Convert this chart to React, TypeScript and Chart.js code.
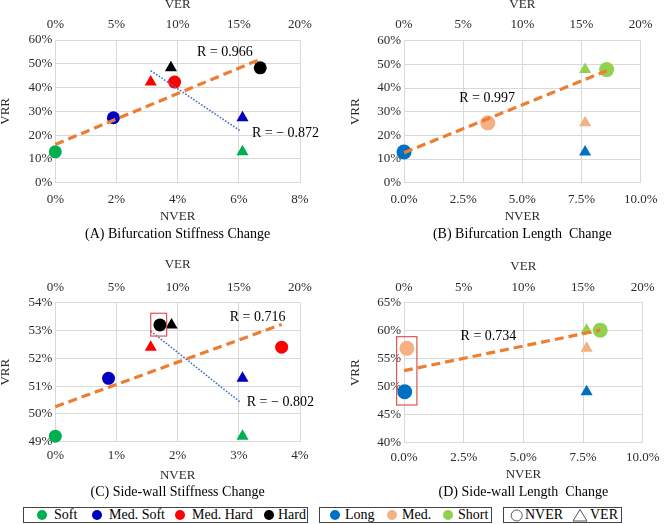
import React, { useEffect, useRef } from 'react';
import { Chart, registerables } from 'chart.js';
Chart.register(...registerables);

const FONT = '"Liberation Serif", "Times New Roman", serif';

// ---------- categories & colours ----------
const stiffLabels = ['Soft', 'Med. Soft', 'Med. Hard', 'Hard'];
const stiffColors = ['#00B050', '#0000C0', '#FF0000', '#000000'];
const lengthLabels = ['Long', 'Med.', 'Short'];
const lengthColors = ['#0070C0', '#F4B183', '#92D050'];
const shapeLabels = ['NVER', 'VER'];

// ---------- (A) Bifurcation Stiffness Change ----------
const aNver = [0, 1.9, 3.9, 6.7];
const aVer = [15.3, 15.3, 7.8, 9.45];
const aVrr = [13, 27.3, 42.3, 48.3];
const aTrendNverX = [0, 6.7];
const aTrendNverY = [16.1, 51.9];
const aTrendVerX = [7.8, 15.15];
const aTrendVerY = [47.1, 21.7];
const aRText = ['R = 0.966', 'R = \u2212 0.872'];

// ---------- (B) Bifurcation Length Change ----------
const bNver = [0, 3.54, 8.56];
const bVer = [15.3, 15.3, 15.3];
const bVrr = [13, 25.3, 47.8];
const bTrendNverX = [0, 8.56];
const bTrendNverY = [12.7, 47.3];
const bRText = ['R = 0.997'];

// ---------- (C) Side-wall Stiffness Change ----------
const cNver = [0, 0.87, 3.7, 1.71];
const cVer = [15.3, 15.3, 7.8, 9.5];
const cVrr = [49.2, 51.28, 52.4, 53.2];
const cTrendNverX = [0, 3.7];
const cTrendNverY = [50.26, 53.22];
const cTrendVerX = [7.8, 15.15];
const cTrendVerY = [52.98, 50.41];
const cBoxX = [1.56, 1.82];
const cBoxY = [52.8, 53.62];
const cRText = ['R = 0.716', 'R = \u2212 0.802'];

// ---------- (D) Side-wall Length Change ----------
const dNver = [0.03, 0.12, 8.22];
const dVer = [15.3, 15.3, 15.3];
const dVrr = [49.1, 56.85, 60.1];
const dTrendNverX = [0, 8.22];
const dTrendNverY = [52.86, 60.1];
const dBoxX = [-0.31, 0.54];
const dBoxY = [46.73, 58.93];
const dRText = ['R = 0.734'];

// ---------- axis tick definitions ----------
const nverTicksAC = { a: [0, 8, 2], c: [0, 4, 1] };
const nverTicksBD = [0, 10, 2.5];
const verTicks = [0, 20, 5];
const vrrTicks = { a: [0, 60, 10], b: [0, 60, 10], c: [49, 54, 1], d: [40, 65, 5] };

const captions = {
  a: '(A) Bifurcation Stiffness Change',
  b: '(B) Bifurcation Length  Change',
  c: '(C) Side-wall Stiffness Change',
  d: '(D) Side-wall Length  Change',
};

type Layout = {
  cL: number; cT: number; cR: number; cB: number;
  plotL: number; plotR: number; plotT: number; plotB: number;
  ver: number; topTick: number; bottomTick: number; nver: number; caption: number; vrr: number;
};

const layouts: Record<string, Layout> = {
  a: { cL: -3, cT: -4, cR: 333, cB: 247, plotL: 55.3, plotR: 300, plotT: 40, plotB: 182.7, ver: 4.8, topTick: 24.3, bottomTick: 200, nver: 217, caption: 234, vrr: 5.5 },
  b: { cL: 333, cT: -4, cR: 667, cB: 247, plotL: 404, plotR: 649, plotT: 40.7, plotB: 182.7, ver: 4.8, topTick: 24.3, bottomTick: 200, nver: 217, caption: 234, vrr: 356 },
  c: { cL: -3, cT: 250, cR: 333, cB: 503, plotL: 55.3, plotR: 300, plotT: 302.7, plotB: 441.7, ver: 265, topTick: 287.3, bottomTick: 456, nver: 476, caption: 492, vrr: 5.5 },
  d: { cL: 333, cT: 250, cR: 667, cB: 503, plotL: 404, plotR: 649, plotT: 302.7, plotB: 442.7, ver: 267, topTick: 287.3, bottomTick: 458, nver: 475, caption: 492, vrr: 356 },
};

// label anchors in data coordinates (axis, x, y)
const rAnchors: Record<string, { axis: string; x: number; y: number }[]> = {
  a: [{ axis: 'x', x: 4.63, y: 54.9 }, { axis: 'x', x: 6.43, y: 20.9 }],
  b: [{ axis: 'x', x: 2.33, y: 35.8 }],
  c: [{ axis: 'x', x: 2.85, y: 53.49 }, { axis: 'x', x: 3.13, y: 50.43 }],
  d: [{ axis: 'x', x: 2.37, y: 59.05 }],
};

const pts = (xs: number[], ys: number[]) => xs.map((x, i) => ({ x, y: ys[i] }));

const overlayPlugin = {
  id: 'overlay',
  afterDatasetsDraw(chart: any, _a: any, opts: any) {
    const ctx = chart.ctx;
    const ys = chart.scales.y;
    ctx.save();
    if (opts.box) {
      const xs = chart.scales.x;
      const x1 = xs.getPixelForValue(opts.box.x[0]);
      const x2 = xs.getPixelForValue(opts.box.x[1]);
      const y1 = ys.getPixelForValue(opts.box.y[1]);
      const y2 = ys.getPixelForValue(opts.box.y[0]);
      ctx.strokeStyle = '#E05555';
      ctx.lineWidth = 1.2;
      ctx.strokeRect(x1, y1, x2 - x1, y2 - y1);
    }
    ctx.font = '14px ' + FONT;
    ctx.fillStyle = '#000';
    ctx.textAlign = 'left';
    ctx.textBaseline = 'middle';
    (opts.labels || []).forEach((l: any) => {
      const sx = chart.scales[l.axis];
      ctx.fillText(l.text, sx.getPixelForValue(l.x), ys.getPixelForValue(l.y));
    });
    ctx.restore();
  },
};

type PanelProps = {
  id: string;
  nver: number[]; ver: number[]; vrr: number[]; colors: string[];
  trendN: [number[], number[]]; trendV?: [number[], number[]];
  nverTicks: number[]; vrrT: number[]; fixed1?: boolean;
  rText: string[]; box?: { x: number[]; y: number[] }; circleR: number;
};

function Panel(p: PanelProps) {
  const ref = useRef<HTMLCanvasElement>(null);
  const L = layouts[p.id];
  const W = L.cR - L.cL;
  const H = L.cB - L.cT;
  useEffect(() => {
    const half = 7.8;
    const padLeft = Math.max(0, L.vrr - half - L.cL);
    const padTop = Math.max(0, L.ver - half - L.cT);
    const padRight = L.cR - L.plotR;
    const yw = L.plotL - L.cL - padLeft;
    const th = L.plotT - L.cT - padTop;
    const titleTop = L.nver + half;
    const bh = titleTop - L.plotB;
    const capTop = Math.max(0, L.caption - 8.4 - titleTop);
    const capBottom = Math.max(0, L.cB - (titleTop + capTop + 16.8));
    const bottomPad = L.bottomTick - half - L.plotB;
    const topPad = L.plotT - L.topTick - half;
    const tickFont = { family: FONT, size: 13 };
    const tickColor = '#2b2b2b';
    const gridColor = '#D9D9D9';

    const datasets: any[] = [];
    datasets.push({
      data: pts(p.trendN[0], p.trendN[1]), xAxisID: 'x', yAxisID: 'y', showLine: true,
      borderColor: '#ED7D31', borderWidth: 3.2, borderDash: [9, 5], pointRadius: 0, clip: false,
    });
    if (p.trendV) {
      datasets.push({
        data: pts(p.trendV[0], p.trendV[1]), xAxisID: 'x2', yAxisID: 'y', showLine: true,
        borderColor: '#4472C4', borderWidth: 1.6, borderDash: [1.6, 1.6], pointRadius: 0, clip: false,
      });
    }
    datasets.push({
      data: pts(p.nver, p.vrr), xAxisID: 'x', yAxisID: 'y', pointStyle: 'circle',
      pointRadius: p.circleR, pointBackgroundColor: p.colors, pointBorderColor: p.colors, borderWidth: 0, clip: false,
    });
    datasets.push({
      data: pts(p.ver, p.vrr), xAxisID: 'x2', yAxisID: 'y', pointStyle: 'triangle',
      pointRadius: 7, pointBackgroundColor: p.colors, pointBorderColor: p.colors, borderWidth: 0, clip: false,
    });

    const fmt = (v: any) => (p.fixed1 ? Number(v).toFixed(1) : String(Math.round(Number(v) * 100) / 100)) + '%';

    const chart = new Chart(ref.current!, {
      type: 'scatter',
      data: { datasets },
      options: {
        animation: false,
        responsive: false,
        devicePixelRatio: 1,
        layout: { padding: { left: padLeft, top: padTop, right: padRight, bottom: 0 } },
        scales: {
          x: {
            type: 'linear', position: 'bottom',
            min: p.nverTicks[0], max: p.nverTicks[1],
            ticks: { stepSize: p.nverTicks[2], font: tickFont, color: tickColor, padding: bottomPad, callback: fmt, maxRotation: 0, autoSkip: false },
            grid: { color: gridColor, drawTicks: false, lineWidth: 1 },
            border: { display: true, color: gridColor },
            title: { display: true, text: 'NVER', font: tickFont, color: tickColor, padding: { top: 0, bottom: 0 } },
            afterFit: (s: any) => { s.height = bh; },
          },
          x2: {
            type: 'linear', position: 'top',
            min: verTicks[0], max: verTicks[1],
            ticks: { stepSize: verTicks[2], font: tickFont, color: tickColor, padding: topPad, callback: (v: any) => v + '%', maxRotation: 0, autoSkip: false },
            grid: { display: false, drawTicks: false },
            border: { display: false },
            title: { display: true, text: 'VER', font: tickFont, color: tickColor, padding: { top: 0, bottom: 0 } },
            afterFit: (s: any) => { s.height = th; },
          },
          y: {
            type: 'linear', position: 'left',
            min: p.vrrT[0], max: p.vrrT[1],
            ticks: { stepSize: p.vrrT[2], font: tickFont, color: tickColor, padding: 3, callback: (v: any) => v + '%' },
            grid: { color: gridColor, drawTicks: false, lineWidth: 1 },
            border: { display: true, color: gridColor },
            title: { display: true, text: 'VRR', font: tickFont, color: tickColor, padding: { top: 0, bottom: 0 } },
            afterFit: (s: any) => { s.width = yw; },
          },
        },
        plugins: {
          legend: { display: false },
          tooltip: { enabled: false },
          title: {
            display: true, position: 'bottom', fullSize: false, text: (captions as any)[p.id],
            font: { family: FONT, size: 14, weight: 'normal' }, color: '#000',
            padding: { top: capTop, bottom: capBottom },
          },
          overlay: {
            box: p.box,
            labels: rAnchors[p.id].map((a, i) => ({ ...a, text: p.rText[i] })),
          },
        } as any,
      },
      plugins: [overlayPlugin],
    } as any);
    return () => chart.destroy();
  }, []);
  return (
    <canvas
      ref={ref}
      width={W}
      height={H}
      style={{ position: 'absolute', left: L.cL, top: L.cT, width: W, height: H }}
    />
  );
}

const legendText: React.CSSProperties = {
  position: 'absolute', top: 506, height: 18, lineHeight: '18px',
  fontFamily: FONT, fontSize: 14, color: '#000', whiteSpace: 'nowrap',
};

function Dot({ x, color }: { x: number; color: string }) {
  return (
    <div style={{ position: 'absolute', left: x - 5, top: 510, width: 10, height: 10, borderRadius: 5, background: color }} />
  );
}

function Legend() {
  const boxStyle = (l: number, w: number): React.CSSProperties => ({
    position: 'absolute', left: l, top: 507, width: w, height: 16, border: '1px solid #444', boxSizing: 'border-box',
  });
  const stiffX = [41.7, 96.7, 180, 269];
  const stiffTextX = [54, 109, 192, 278];
  const lenX = [335, 392, 448];
  const lenTextX = [345, 402, 458];
  return (
    <>
      <div style={boxStyle(23, 285)} />
      <div style={boxStyle(319, 173)} />
      <div style={boxStyle(503, 119)} />
      {stiffLabels.map((s, i) => (
        <React.Fragment key={s}>
          <Dot x={stiffX[i]} color={stiffColors[i]} />
          <div style={{ ...legendText, left: stiffTextX[i] }}>{s}</div>
        </React.Fragment>
      ))}
      {lengthLabels.map((s, i) => (
        <React.Fragment key={s}>
          <Dot x={lenX[i]} color={lengthColors[i]} />
          <div style={{ ...legendText, left: lenTextX[i] }}>{s}</div>
        </React.Fragment>
      ))}
      <svg style={{ position: 'absolute', left: 508, top: 507, overflow: 'visible' }} width={90} height={16}>
        <circle cx={8.7} cy={8.5} r={5.5} fill="none" stroke="#555" strokeWidth={1} />
        <polygon points="72,2.5 65,14 79,14" fill="none" stroke="#555" strokeWidth={1} />
      </svg>
      <div style={{ ...legendText, left: 525 }}>{shapeLabels[0]}</div>
      <div style={{ ...legendText, left: 590 }}>{shapeLabels[1]}</div>
    </>
  );
}

export default function App() {
  return (
    <div style={{ position: 'absolute', left: 0, top: 0, width: 667, height: 524, overflow: 'hidden', background: '#fff' }}>
      <Panel id="a" nver={aNver} ver={aVer} vrr={aVrr} colors={stiffColors}
        trendN={[aTrendNverX, aTrendNverY]} trendV={[aTrendVerX, aTrendVerY]}
        nverTicks={nverTicksAC.a} vrrT={vrrTicks.a} rText={aRText} circleR={6.5} />
      <Panel id="b" nver={bNver} ver={bVer} vrr={bVrr} colors={lengthColors}
        trendN={[bTrendNverX, bTrendNverY]}
        nverTicks={nverTicksBD} vrrT={vrrTicks.b} fixed1 rText={bRText} circleR={7.5} />
      <Panel id="c" nver={cNver} ver={cVer} vrr={cVrr} colors={stiffColors}
        trendN={[cTrendNverX, cTrendNverY]} trendV={[cTrendVerX, cTrendVerY]}
        nverTicks={nverTicksAC.c} vrrT={vrrTicks.c} rText={cRText} circleR={6.5}
        box={{ x: cBoxX, y: cBoxY }} />
      <Panel id="d" nver={dNver} ver={dVer} vrr={dVrr} colors={lengthColors}
        trendN={[dTrendNverX, dTrendNverY]}
        nverTicks={nverTicksBD} vrrT={vrrTicks.d} fixed1 rText={dRText} circleR={7.5}
        box={{ x: dBoxX, y: dBoxY }} />
      <Legend />
    </div>
  );
}
